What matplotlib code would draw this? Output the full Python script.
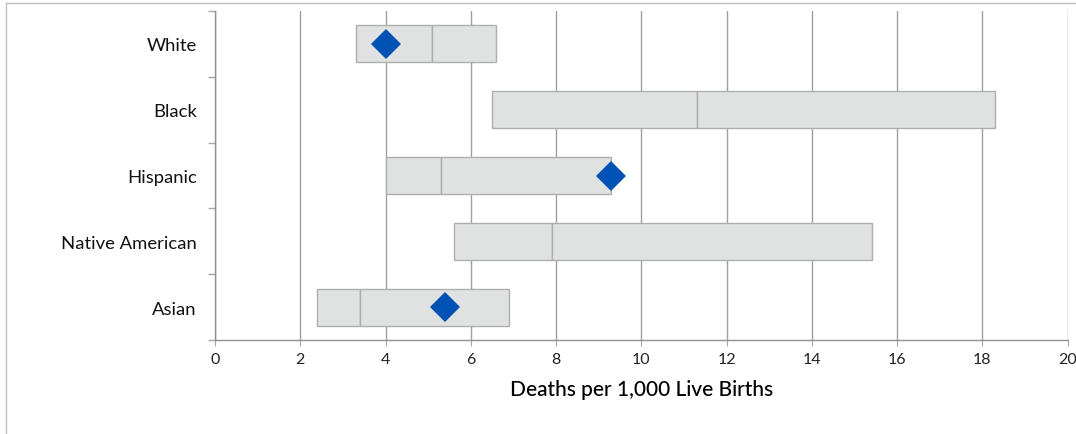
import matplotlib.pyplot as plt
from matplotlib.lines import Line2D

plt.rcParams['font.family'] = ['Lato', 'DejaVu Sans']

groups = ['White', 'Black', 'Hispanic', 'Native American', 'Asian']
low = [3.3, 6.5, 4.0, 5.6, 2.4]
median = [5.1, 11.3, 5.3, 7.9, 3.4]
high = [6.6, 18.3, 9.3, 15.4, 6.9]
# diamond markers (None where no marker shown)
marker_vals = [4.0, None, 9.3, None, 5.4]

fig = plt.figure(figsize=(10.76, 4.35), dpi=100)
ax = fig.add_axes([0.1998, 0.2161, 0.7924, 0.7563])

ypos = list(range(len(groups)))
fill = '#E0E1E1'
edge = '#AEAEAE'

# two segments per group: low->median and median->high
ax.barh(ypos, [m - l for m, l in zip(median, low)], left=low, height=0.56,
        color=fill, edgecolor=edge, linewidth=1, zorder=2)
ax.barh(ypos, [h - m for h, m in zip(high, median)], left=median, height=0.56,
        color=fill, edgecolor=edge, linewidth=1, zorder=2)

for y, v in zip(ypos, marker_vals):
    if v is not None:
        ax.plot(v, y, marker='D', markersize=15, color='#0052B4', zorder=3,
                markeredgewidth=0)

ax.set_xlim(0, 20)
ax.set_ylim(len(groups) - 0.5, -0.5)
ax.set_xticks(range(0, 21, 2))
ax.set_yticks(ypos)
ax.set_yticklabels(groups, fontsize=13.3, color='#111111')
ax.set_yticks([i - 0.5 for i in range(len(groups) + 1)], minor=True)
ax.tick_params(axis='y', which='major', length=0, pad=13)
ax.tick_params(axis='y', which='minor', length=5, color='#A6A6A6', width=1)
ax.tick_params(axis='x', length=4, color='#A6A6A6', labelsize=11.5, pad=5,
               labelcolor='#222222')
ax.set_xlabel('Deaths per 1,000 Live Births', fontsize=15, labelpad=9,
              fontweight='medium')

ax.grid(axis='x', color='#A0A0A0', linewidth=1, zorder=0)
ax.set_axisbelow(True)
for s in ['top', 'right']:
    ax.spines[s].set_visible(False)
for s in ['left', 'bottom']:
    ax.spines[s].set_color('#909090')
    ax.spines[s].set_linewidth(1)

# outer chart border (top and left)
bx = 6 / 1076
by = 1 - 4 / 435
fig.add_artist(Line2D([bx, bx], [0, by], color='#C0C0C0', linewidth=1))
fig.add_artist(Line2D([bx, 1], [by, by], color='#C0C0C0', linewidth=1))

fig.savefig('out.png', dpi=100)
